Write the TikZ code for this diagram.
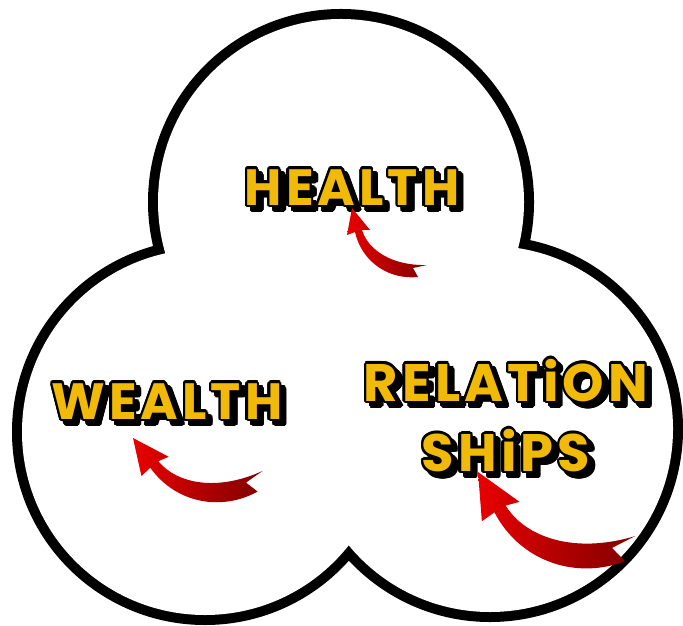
\documentclass[tikz,border=0pt]{standalone}
\usepackage{fontspec}
\usepackage{contour}
\newfontfamily\comicfont{Poppins}[LetterSpace=8]
\contourlength{0.7pt}
\definecolor{comicgold}{RGB}{242,186,8}
\definecolor{arrowred}{RGB}{232,0,0}
\definecolor{arrowdark}{RGB}{128,0,0}

\newcommand{\comic}[1]{\leavevmode\rlap{\kern1.4pt\raisebox{-1.4pt}{\contour{black}{\textcolor{black}{#1}}}}\contour{black}{\textcolor{comicgold}{#1}}}

\tikzset{
  word/.style={font=\comicfont\bfseries\fontsize{14.5}{16}\selectfont, inner sep=0pt, align=center},
  redarrow/.pic={
    \shade[left color=arrowred, right color=arrowdark]
      (0,0) -- (18,22) -- (10,22) .. controls (16,42) and (40,58) .. (75,57)
      -- (61,60) -- (66,69) .. controls (38,72) and (10,55) .. (3,24) -- (-5,27) -- cycle;
  }
}

\begin{document}
\begin{tikzpicture}[x=0.01cm, y=-0.01cm]
    \useasboundingbox (0,0) rectangle (683,625);

    % three lobes: thick rings, then white fill over the inner half
    \foreach \cx/\cy in {341/202, 205/432, 490/429}
        \draw[line width=0.2cm] (\cx,\cy) circle[radius=183];
    \foreach \cx/\cy in {341/202, 205/432, 490/429}
        \fill[white] (\cx,\cy) circle[radius=183];

    \node[word] (health) at (352,191) {\comic{HEALTH}};
    \node[word] (wealth) at (167,405) {\comic{WEALTH}};
    \node[word, font=\comicfont\bfseries\fontsize{15}{16}\selectfont] (relation) at (506,419)
        {\comic{RELATiON}\\[4pt]\comic{SHiPS}};

    \pic at (352,208) {redarrow};
    \pic[rotate=23, scale=1.42] at (133,438) {redarrow};
    \pic[rotate=15, scale=1.8] at (478,472) {redarrow};

\end{tikzpicture}
\end{document}
